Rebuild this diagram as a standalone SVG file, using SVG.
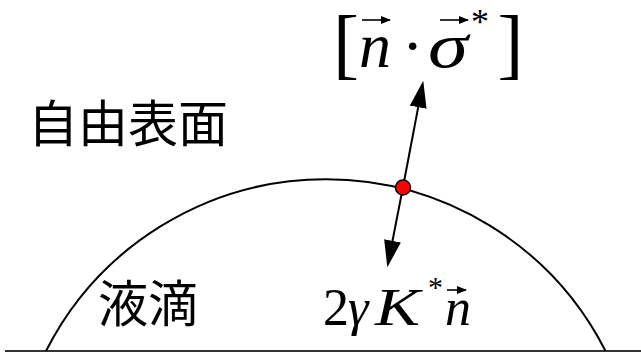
<svg xmlns="http://www.w3.org/2000/svg" width="641" height="356" viewBox="0 0 641 356">
<style>
.math{font-family:"Liberation Serif","Times New Roman",serif;fill:#000}
.it{font-style:italic}
.jp{font-family:"Noto Sans CJK JP","Noto Sans CJK SC",sans-serif;fill:#000;font-size:50px}
.ln{fill:none;stroke:#000;stroke-width:2}
.vec{fill:none;stroke:#000;stroke-width:1.6}
</style>
<defs>
<marker id="ah" viewBox="0 0 27 17" refX="23" refY="8.5" markerWidth="27" markerHeight="17" markerUnits="userSpaceOnUse" orient="auto">
<path d="M0,0 L27,8.5 L0,17 z" fill="#000"/>
</marker>
<marker id="vh" viewBox="0 0 10 8" refX="9" refY="4" markerWidth="10" markerHeight="8" markerUnits="userSpaceOnUse" orient="auto">
<path d="M0,0 L10,4 L0,8 z" fill="#000"/>
</marker>
</defs>
<g id="ground">
<path d="M5,351 H641" stroke="#333" stroke-width="2" fill="none"/>
</g>
<g id="droplet">
<path class="ln" d="M46,351 A313.75,313.75 0 0 1 605.5,351"/>
</g>
<g id="connectors">
<path class="ln" d="M403,187 L422.5,84.6" marker-end="url(#ah)"/>
<path class="ln" d="M403,187 L388.1,263.4" marker-end="url(#ah)"/>
</g>
<g id="point">
<circle cx="403" cy="187.5" r="7.5" fill="#ff0000" stroke="#000" stroke-width="1.5"/>
</g>
<g id="label-free-surface">
<text class="jp" x="28" y="142">自由表面</text>
</g>
<g id="label-droplet">
<text class="jp" x="98" y="322">液滴</text>
</g>
<g id="label-stress">
<text class="math"><tspan x="333" y="70" font-size="78">[</tspan><tspan class="it" x="359" y="67" font-size="64">n</tspan><tspan x="402" y="67" font-size="64">·</tspan><tspan class="it" x="428" y="67" font-size="64" textLength="40" lengthAdjust="spacingAndGlyphs">σ</tspan><tspan x="471" y="34" font-size="36">*</tspan><tspan x="497.5" y="70" font-size="78">]</tspan></text>
<path class="vec" d="M362,20 H390" marker-end="url(#vh)"/>
<path class="vec" d="M440,20 H468" marker-end="url(#vh)"/>
</g>
<g id="label-tension">
<text class="math" font-size="52"><tspan x="323" y="325">2</tspan><tspan class="it" x="348" y="325">γ</tspan><tspan class="it" x="375" y="325" textLength="45" lengthAdjust="spacingAndGlyphs">K</tspan><tspan x="428" y="297" font-size="30">*</tspan><tspan class="it" x="445" y="325">n</tspan></text>
<path class="vec" d="M447,290 H466" marker-end="url(#vh)"/>
</g>
</svg>
